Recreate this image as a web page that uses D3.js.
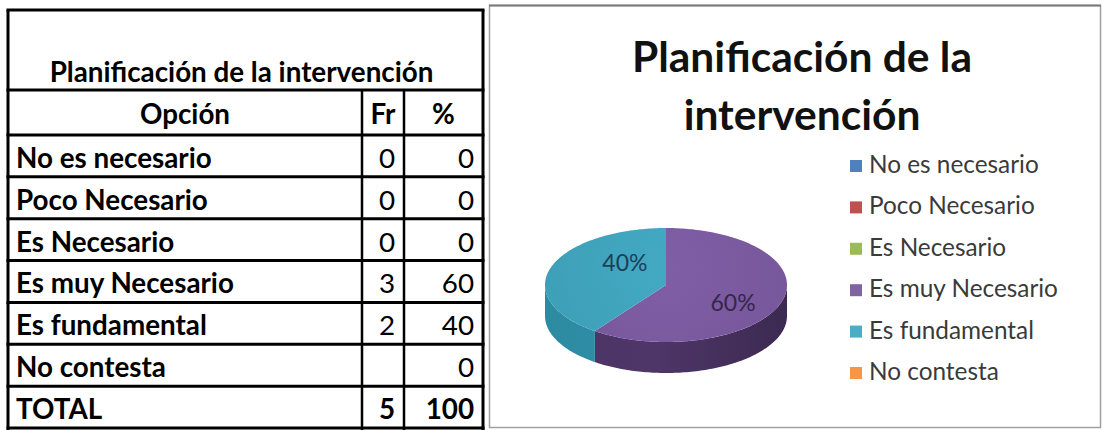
<!DOCTYPE html>
<html>
<head>
<meta charset="utf-8">
<script src="https://cdn.jsdelivr.net/npm/d3@7"></script>
<style>
  html, body { margin: 0; padding: 0; background: #fff; }
  svg { display: block; }
</style>
</head>
<body>
<svg id="chart" width="1106" height="430"></svg>
<script>
// Survey question: "Planificación de la intervención"
const tableTitle = "Planificación de la intervención";
const headers = ["Opción", "Fr", "%"];
const options = ["No es necesario", "Poco Necesario", "Es Necesario", "Es muy Necesario", "Es fundamental", "No contesta"];
const freq = [0, 0, 0, 3, 2, null];
const percent = [0, 0, 0, 60, 40, 0];
const totalLabel = "TOTAL";
const totalFreq = 5;
const totalPercent = 100;
const chartTitle = ["Planificación de la", "intervención"];
const sliceColors = ["#4F81BD", "#C0504D", "#9BBB59", "#8064A2", "#4BACC6", "#F79646"];
const topColors = ["#5a86c0", "#c4574f", "#9fbf5d", "#7a5a9f", "#40a3bc", "#f49a4c"];
const sideColors = ["#34557f", "#7f3432", "#67803b", "#47315f", "#2b8499", "#a4632b"];
const labelColors = ["#1f2d45", "#3a1c1b", "#2f3d1a", "#35264b", "#1b3f58", "#4a2d12"];

const svg = d3.select("#chart");

// Size a font so that a reference string reaches a given width
function fitFont(family, weight, text, targetWidth) {
  const probe = svg.append("text")
    .attr("font-family", family).attr("font-weight", weight)
    .attr("font-size", 100).text(text);
  const w = probe.node().getComputedTextLength();
  probe.remove();
  return 100 * targetWidth / w;
}

/* ---------------- Table ---------------- */
const tbl = svg.append("g");
const colX = [8, 362, 404, 483];
const rowY = d3.scaleLinear().domain([0, 7]).range([135, 428]);
const tableFont = "Lato, 'Noto Sans', sans-serif";
const tSize = fitFont(tableFont, 700, tableTitle, 384);

// body rows (6 options + total)
const rows = options.map((o, i) => ({ label: o, fr: freq[i], pc: percent[i] }));
rows.push({ label: totalLabel, fr: totalFreq, pc: totalPercent });

tbl.append("text")
  .attr("x", (colX[0] + colX[3]) / 2 - 4).attr("y", 82)
  .attr("text-anchor", "middle")
  .attr("font-family", tableFont).attr("font-weight", 700)
  .attr("font-size", tSize).attr("fill", "#000")
  .text(tableTitle);

const headerCenters = [(colX[0] + colX[1]) / 2, (colX[1] + colX[2]) / 2, (colX[2] + colX[3]) / 2];
tbl.selectAll("text.hdr").data(headers).join("text")
  .attr("class", "hdr")
  .attr("x", (d, i) => headerCenters[i]).attr("y", 124)
  .attr("text-anchor", "middle")
  .attr("font-family", tableFont).attr("font-weight", 700)
  .attr("font-size", tSize).attr("fill", "#000")
  .text(d => d);

const rowG = tbl.selectAll("g.row").data(rows).join("g").attr("class", "row")
  .attr("transform", (d, i) => `translate(0,${rowY(i + 1) - 9})`);
rowG.append("text")
  .attr("x", 16)
  .attr("font-family", tableFont).attr("font-weight", 700)
  .attr("font-size", tSize).attr("fill", "#000")
  .text(d => d.label);
rowG.append("text")
  .attr("x", colX[2] - 9).attr("text-anchor", "end")
  .attr("font-family", tableFont)
  .attr("font-weight", (d, i) => i === rows.length - 1 ? 700 : 400)
  .attr("font-size", tSize).attr("fill", "#000")
  .text(d => d.fr === null ? "" : d.fr);
rowG.append("text")
  .attr("x", colX[3] - 9).attr("text-anchor", "end")
  .attr("font-family", tableFont)
  .attr("font-weight", (d, i) => i === rows.length - 1 ? 700 : 400)
  .attr("font-size", tSize).attr("fill", "#000")
  .text(d => d.pc);

// grid lines
const hLines = [10, 90].concat(d3.range(0, 8).map(i => rowY(i)));
tbl.selectAll("line.h").data(hLines).join("line")
  .attr("x1", colX[0] - 1.5).attr("x2", colX[3] + 1.5)
  .attr("y1", d => d).attr("y2", d => d)
  .attr("stroke", "#000").attr("stroke-width", 3);
tbl.selectAll("line.v").data([colX[0], colX[3]]).join("line")
  .attr("x1", d => d).attr("x2", d => d)
  .attr("y1", 10).attr("y2", 430)
  .attr("stroke", "#000").attr("stroke-width", 3);
tbl.selectAll("line.vi").data([colX[1], colX[2]]).join("line")
  .attr("x1", d => d).attr("x2", d => d)
  .attr("y1", 90).attr("y2", 430)
  .attr("stroke", "#000").attr("stroke-width", 2.5);

/* ---------------- Chart panel ---------------- */
const panel = svg.append("g");
panel.append("rect")
  .attr("x", 489.5).attr("y", 5.5).attr("width", 611).attr("height", 422)
  .attr("fill", "#fff").attr("stroke", "#a0a0a0").attr("stroke-width", 1.5);
panel.append("line")
  .attr("x1", 489).attr("x2", 1101).attr("y1", 5.5).attr("y2", 5.5)
  .attr("stroke", "#7a7a7a").attr("stroke-width", 2);

const titleFont = "Lato, 'Noto Sans', sans-serif";
const titleSize = fitFont(titleFont, 700, chartTitle[0], 340);
panel.selectAll("text.title").data(chartTitle).join("text")
  .attr("class", "title")
  .attr("x", 802).attr("y", (d, i) => 72 + i * 58)
  .attr("text-anchor", "middle")
  .attr("font-family", titleFont).attr("font-weight", 700)
  .attr("font-size", titleSize).attr("fill", "#111")
  .text(d => d);

/* 3D pie: angles from d3.pie, projected onto an ellipse */
const cx = 666, cy = 285, rx = 121, ry = 57, depth = 31;
const pie = d3.pie().sort(null).value(d => d);
const arcs = pie(percent).map((a, i) => ({ ...a, i }));
const pt = (ang, dy = 0) => [cx + rx * Math.sin(ang), cy - ry * Math.cos(ang) + dy];

function arcPoints(a0, a1, dy) {
  const n = Math.max(2, Math.ceil(Math.abs(a1 - a0) / 0.02));
  return d3.range(n + 1).map(k => pt(a0 + (a1 - a0) * k / n, dy));
}

const defs = svg.append("defs");
arcs.forEach(a => {
  const g = defs.append("linearGradient").attr("id", "side" + a.i)
    .attr("gradientUnits", "userSpaceOnUse")
    .attr("x1", cx - rx).attr("x2", cx + rx).attr("y1", 0).attr("y2", 0);
  const c = d3.color(sideColors[a.i]);
  g.append("stop").attr("offset", "0%").attr("stop-color", c.brighter(0.15));
  g.append("stop").attr("offset", "45%").attr("stop-color", c.brighter(0.25));
  g.append("stop").attr("offset", "100%").attr("stop-color", c.darker(0.45));
  const t = defs.append("radialGradient").attr("id", "top" + a.i)
    .attr("gradientUnits", "userSpaceOnUse")
    .attr("cx", cx).attr("cy", cy - ry * 0.3).attr("r", rx * 1.1);
  const tc = d3.color(topColors[a.i]);
  t.append("stop").attr("offset", "0%").attr("stop-color", tc.brighter(0.12));
  t.append("stop").attr("offset", "100%").attr("stop-color", tc.darker(0.08));
});

const line = d3.line();
// front walls (visible between 90° and 270°)
const sideG = panel.append("g");
arcs.filter(a => a.endAngle > a.startAngle).forEach(a => {
  const s = Math.max(a.startAngle, Math.PI / 2);
  const e = Math.min(a.endAngle, 3 * Math.PI / 2);
  if (e <= s) return;
  const pts = arcPoints(s, e, 0).concat(arcPoints(e, s, depth));
  sideG.append("path").attr("d", line(pts) + "Z")
    .attr("fill", `url(#side${a.i})`);
});
// top faces
const topG = panel.append("g");
arcs.filter(a => a.endAngle > a.startAngle).forEach(a => {
  const pts = [[cx, cy]].concat(arcPoints(a.startAngle, a.endAngle, 0));
  topG.append("path").attr("d", line(pts) + "Z")
    .attr("fill", `url(#top${a.i})`);
});

// percentage labels, placed along each slice's mid-angle
const labelFont = "Lato, 'Noto Sans', sans-serif";
const lcx = cx + 13, lcy = cy - 2;
panel.selectAll("text.pl").data(arcs.filter(a => a.value > 0)).join("text")
  .attr("class", "pl")
  .attr("x", a => lcx + rx * 0.47 * Math.sin((a.startAngle + a.endAngle) / 2))
  .attr("y", a => lcy - ry * 1.13 * Math.cos((a.startAngle + a.endAngle) / 2) + 8)
  .attr("text-anchor", "middle")
  .attr("font-family", labelFont).attr("font-size", 23)
  .attr("fill", a => labelColors[a.i])
  .text(a => a.value + "%");

// legend
const legendFont = "Lato, 'Noto Sans', sans-serif";
const legSize = fitFont(legendFont, 400, options[3], 189);
const legY = d3.scaleLinear().domain([0, 5]).range([166, 373]);
const leg = panel.selectAll("g.leg").data(options).join("g").attr("class", "leg")
  .attr("transform", (d, i) => `translate(850,${legY(i)})`);
leg.append("rect").attr("x", 0).attr("y", -6).attr("width", 12).attr("height", 12)
  .attr("fill", (d, i) => sliceColors[i]);
leg.append("text").attr("x", 19).attr("y", 7)
  .attr("font-family", legendFont).attr("font-size", legSize)
  .attr("fill", "#3a3a3a")
  .text(d => d);
</script>
</body>
</html>
